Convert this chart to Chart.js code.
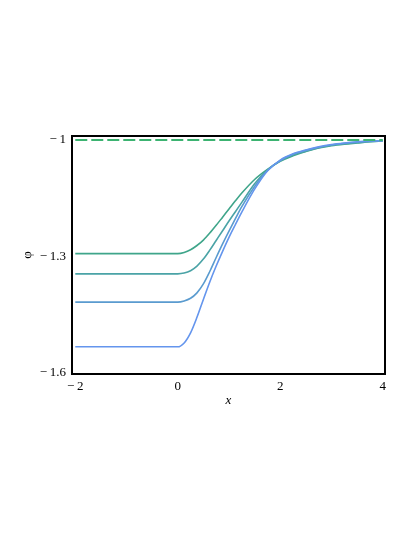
<!DOCTYPE html>
<html>
<head>
<meta charset="utf-8">
<script src="https://cdn.jsdelivr.net/npm/chart.js@4/dist/chart.umd.min.js"></script>
<style>
  html, body { margin: 0; padding: 0; background: #ffffff; }
  #wrap { width: 415px; height: 537px; }
</style>
</head>
<body>
<div id="wrap"><canvas id="c" width="415" height="537"></canvas></div>
<script>
// ---- data ----
const xs = [-2, -1, 0, 0.125, 0.25, 0.375, 0.5, 0.625, 0.75, 0.875, 1, 1.125, 1.25, 1.5, 1.75, 2, 2.25, 2.5, 2.75, 3, 3.25, 3.5, 3.75, 4];
const phiA = [-1.293, -1.293, -1.293, -1.290, -1.283, -1.272, -1.258, -1.240, -1.220, -1.199, -1.178, -1.157, -1.137, -1.102, -1.076, -1.055, -1.041, -1.030, -1.021, -1.015, -1.011, -1.008, -1.005, -1.003];
const phiB = [-1.345, -1.345, -1.345, -1.343, -1.337, -1.325, -1.307, -1.284, -1.259, -1.234, -1.209, -1.185, -1.161, -1.113, -1.078, -1.054, -1.039, -1.029, -1.020, -1.014, -1.010, -1.007, -1.004, -1.003];
const phiC = [-1.418, -1.418, -1.418, -1.415, -1.408, -1.394, -1.371, -1.339, -1.303, -1.268, -1.235, -1.203, -1.172, -1.120, -1.079, -1.053, -1.037, -1.027, -1.019, -1.013, -1.009, -1.006, -1.004, -1.002];
const phiD = [-1.533, -1.533, -1.533, -1.523, -1.497, -1.457, -1.411, -1.366, -1.325, -1.287, -1.251, -1.218, -1.186, -1.127, -1.080, -1.052, -1.036, -1.026, -1.018, -1.012, -1.008, -1.005, -1.003, -1.002];
const asymX = [-2, 4];
const asymY = [-1, -1];
const xTicks = [-2, 0, 2, 4];
const yTicks = [-1.6, -1.3, -1];
const xTitle = 'x';
const yTitle = 'φ';

const toPts = (xa, ya) => xa.map((x, i) => ({ x: x, y: ya[i] }));
const fmt = v => (v < 0 ? '\u2212\u2009' : '') + String(Math.abs(v));

const frame = {
  id: 'frame',
  afterDatasetsDraw(chart) {
    const a = chart.chartArea, ctx = chart.ctx;
    ctx.save();
    ctx.strokeStyle = '#000';
    ctx.lineWidth = 2;
    ctx.strokeRect(a.left, a.top, a.right - a.left, a.bottom - a.top);
    ctx.restore();
  }
};

const lineDs = (label, ys, color) => ({
  label, data: toPts(xs, ys), borderColor: color, borderWidth: 1.6,
  pointRadius: 0, showLine: true, fill: false, cubicInterpolationMode: 'monotone'
});

new Chart(document.getElementById('c'), {
  type: 'scatter',
  data: {
    datasets: [
      { label: 'asym', data: toPts(asymX, asymY), borderColor: '#3cb371', borderWidth: 2,
        borderDash: [12, 4], pointRadius: 0, showLine: true, fill: false },
      lineDs('D', phiD, '#6495ed'),
      lineDs('C', phiC, '#5a9bcf'),
      lineDs('B', phiB, '#4aa3a6'),
      lineDs('A', phiA, '#3fa58a')
    ]
  },
  options: {
    responsive: false,
    animation: false,
    layout: { padding: { left: 0, top: 136, right: 30, bottom: 123 } },
    plugins: { legend: { display: false }, tooltip: { enabled: false } },
    scales: {
      x: {
        type: 'linear', min: -2.064, max: 4.045,
        afterBuildTicks: s => { s.ticks = xTicks.map(v => ({ value: v })); },
        afterFit: s => { s.height = 40; },
        grid: { display: false, drawOnChartArea: false, drawTicks: true, tickLength: 4, tickColor: '#000', tickWidth: 1.5 },
        border: { display: false },
        ticks: { color: '#000', padding: 1, maxRotation: 0, font: { family: 'Liberation Serif', size: 13 },
                 callback: v => fmt(v) },
        title: { display: true, text: xTitle, color: '#000', padding: { top: 0, bottom: 6 },
                 font: { family: 'Liberation Serif', size: 13, style: 'italic' } }
      },
      y: {
        type: 'linear', min: -1.603, max: -0.99,
        afterBuildTicks: s => { s.ticks = yTicks.map(v => ({ value: v })); },
        afterFit: s => { s.width = 72; },
        grid: { display: false, drawOnChartArea: false, drawTicks: true, tickLength: 4, tickColor: '#000', tickWidth: 1.5 },
        border: { display: false },
        ticks: { color: '#000', padding: 2, font: { family: 'Liberation Serif', size: 13 },
                 callback: v => fmt(v) },
        title: { display: true, text: yTitle, color: '#000', padding: { top: 20, bottom: 0 },
                 font: { family: 'Liberation Serif', size: 13 } }
      }
    }
  },
  plugins: [frame]
});
</script>
</body>
</html>
